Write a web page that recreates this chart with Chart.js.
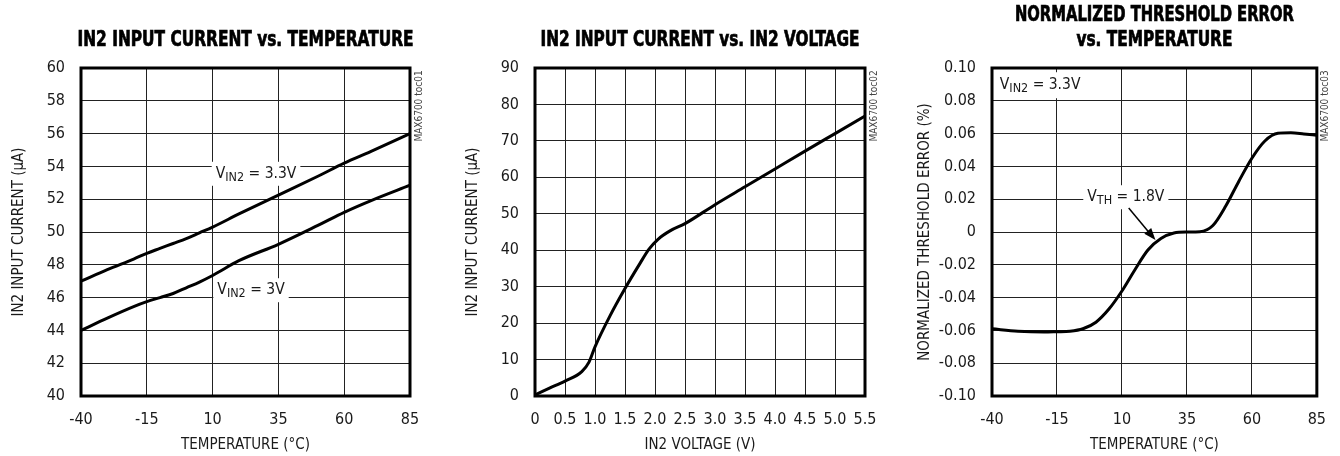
<!DOCTYPE html>
<html>
<head>
<meta charset="utf-8">
<script src="https://cdn.jsdelivr.net/npm/chart.js@4.4.0/dist/chart.umd.min.js"></script>
<style>
  html, body { margin: 0; padding: 0; background: #fff; }
  #wrap { position: relative; width: 1340px; height: 456px; }
  canvas { position: absolute; top: 0; }
</style>
</head>
<body>
<div id="wrap">
  <canvas id="c1" width="450" height="456" style="left:0"></canvas>
  <canvas id="c2" width="450" height="456" style="left:450px"></canvas>
  <canvas id="c3" width="440" height="456" style="left:900px"></canvas>
</div>
<script>
// Chart 1: IN2 input current vs temperature
const tempC = [-40, -30, -20, -15, -10, -5, 0, 5, 10, 20, 35, 50, 60, 70, 85];
const current33V = [47.0, 47.7, 48.35, 48.7, 49.0, 49.3, 49.6, 49.95, 50.3, 51.1, 52.25, 53.4, 54.2, 54.9, 56.0];
const current3V = [44.0, 44.75, 45.45, 45.75, 46.0, 46.25, 46.6, 46.95, 47.35, 48.25, 49.25, 50.4, 51.2, 51.9, 52.85];
const tempTicks = [-40, -15, 10, 35, 60, 85];
const tempTickLabels = ['-40', '-15', '10', '35', '60', '85'];
const currentTicks1 = [40, 42, 44, 46, 48, 50, 52, 54, 56, 58, 60];

// Chart 2: IN2 input current vs IN2 voltage
const in2Voltage = [0, 0.25, 0.5, 0.78, 0.9, 1.0, 1.25, 1.5, 1.75, 1.9, 2.05, 2.25, 2.5, 3.0, 3.5, 4.0, 4.5, 5.0, 5.5];
const currentVsVoltage = [0.3, 2.2, 4.1, 6.7, 9.3, 13.5, 22, 29.5, 36.4, 40.3, 43.0, 45.3, 47.3, 52.5, 57.4, 62.3, 67.2, 72.0, 76.8];
const voltageTicks = [0, 0.5, 1.0, 1.5, 2.0, 2.5, 3.0, 3.5, 4.0, 4.5, 5.0, 5.5];
const voltageTickLabels = ['0', '0.5', '1.0', '1.5', '2.0', '2.5', '3.0', '3.5', '4.0', '4.5', '5.0', '5.5'];
const currentTicks2 = [0, 10, 20, 30, 40, 50, 60, 70, 80, 90];

// Chart 3: normalized threshold error vs temperature
const errTemp = [-40, -30, -20, -15, -10, -5, 0, 5, 10, 15, 20, 25, 30, 35, 40, 45, 50, 55, 60, 65, 70, 75, 80, 85];
const thresholdError = [-0.059, -0.0605, -0.061, -0.0608, -0.0605, -0.059, -0.055, -0.047, -0.036, -0.023, -0.011, -0.004, -0.0006, 0, 0.0002, 0.004, 0.016, 0.031, 0.045, 0.0555, 0.0602, 0.0605, 0.0598, 0.059];
const errorTicks = [-0.1, -0.08, -0.06, -0.04, -0.02, 0, 0.02, 0.04, 0.06, 0.08, 0.1];
const errorTickLabels = ['-0.10', '-0.08', '-0.06', '-0.04', '-0.02', '0', '0.02', '0.04', '0.06', '0.08', '0.10'];

const NARROW = '"Liberation Sans Narrow", "Arial Narrow", "DejaVu Sans Condensed", sans-serif';
const INK = '#1a1a1a';

function pairs(xs, ys) {
    return xs.map((x, i) => ({ x: x, y: ys[i] }));
}

// label with subscript and white background, placed in data units
function drawLabel(ctx, scales, l) {
    const x = scales.x.getPixelForValue(l.x);
    const y = scales.y.getPixelForValue(l.y);
    const big = '15.5px ' + NARROW, small = '12.5px ' + NARROW;
    ctx.save();
    ctx.font = big;
    const w1 = ctx.measureText(l.main).width;
    const w3 = ctx.measureText(l.rest).width;
    ctx.font = small;
    const w2 = ctx.measureText(l.sub).width;
    const w = w1 + w2 + w3;
    const x0 = l.align === 'left' ? x : x - w / 2;
    ctx.fillStyle = '#fff';
    ctx.fillRect(x0 - l.padX, y - l.padY, w + 2 * l.padX, 2 * l.padY);
    ctx.fillStyle = INK;
    ctx.textBaseline = 'middle';
    ctx.textAlign = 'left';
    ctx.font = big;
    ctx.fillText(l.main, x0, y);
    ctx.font = small;
    ctx.fillText(l.sub, x0 + w1, y + 4);
    ctx.font = big;
    ctx.fillText(l.rest, x0 + w1 + w2, y);
    ctx.restore();
}

function drawArrow(ctx, scales, ar) {
    const x1 = scales.x.getPixelForValue(ar.from[0]), y1 = scales.y.getPixelForValue(ar.from[1]);
    const x2 = scales.x.getPixelForValue(ar.to[0]), y2 = scales.y.getPixelForValue(ar.to[1]);
    const ang = Math.atan2(y2 - y1, x2 - x1);
    ctx.save();
    ctx.strokeStyle = '#000';
    ctx.fillStyle = '#000';
    ctx.lineWidth = 1.5;
    ctx.beginPath();
    ctx.moveTo(x1, y1);
    ctx.lineTo(x2 - 8 * Math.cos(ang), y2 - 8 * Math.sin(ang));
    ctx.stroke();
    ctx.translate(x2, y2);
    ctx.rotate(ang);
    ctx.beginPath();
    ctx.moveTo(0, 0);
    ctx.lineTo(-12, -4.5);
    ctx.lineTo(-12, 4.5);
    ctx.closePath();
    ctx.fill();
    ctx.restore();
}

// heavy condensed heading, squeezed to the width it has in the datasheet
function drawHeading(ctx, cx, line) {
    ctx.save();
    ctx.font = 'bold 21px ' + NARROW;
    const w = ctx.measureText(line.text).width;
    ctx.translate(cx, line.y);
    ctx.scale(line.width / w, 1);
    ctx.fillStyle = '#000';
    ctx.strokeStyle = '#000';
    ctx.lineWidth = 0.7;
    ctx.textAlign = 'center';
    ctx.textBaseline = 'middle';
    ctx.fillText(line.text, 0, 0);
    ctx.strokeText(line.text, 0, 0);
    ctx.restore();
}

// annotations under the curves, then plot frame, heading and part number tag
const framePlugin = {
    id: 'frame',
    beforeDatasetsDraw(chart, args, opts) {
        const { ctx, scales } = chart;
        (opts.labels || []).forEach(l => drawLabel(ctx, scales, l));
        (opts.arrows || []).forEach(ar => drawArrow(ctx, scales, ar));
    },
    afterDatasetsDraw(chart, args, opts) {
        const { ctx, chartArea: a } = chart;
        opts.heading.forEach(line => drawHeading(ctx, (a.left + a.right) / 2, line));
        ctx.save();
        ctx.strokeStyle = '#000';
        ctx.lineWidth = 3;
        ctx.strokeRect(a.left, a.top, a.right - a.left, a.bottom - a.top);
        ctx.translate(a.right + 9, a.top + 38);
        ctx.rotate(-Math.PI / 2);
        ctx.font = '10px ' + NARROW;
        ctx.fillStyle = '#444';
        ctx.textAlign = 'center';
        ctx.textBaseline = 'middle';
        ctx.fillText(opts.tag, 0, 0);
        ctx.restore();
    }
};

function makeChart(id, cfg) {
    return new Chart(document.getElementById(id), {
        type: 'line',
        data: {
            datasets: cfg.series.map(s => ({
                data: s,
                borderColor: '#000',
                borderWidth: 3,
                pointRadius: 0,
                cubicInterpolationMode: 'monotone',
                fill: false
            }))
        },
        options: {
            responsive: false,
            animation: false,
            devicePixelRatio: 1,
            layout: { padding: { top: 68, right: cfg.padRight, bottom: 0, left: 0 } },
            plugins: {
                legend: { display: false },
                tooltip: { enabled: false },
                title: { display: false },
                frame: { heading: cfg.heading, tag: cfg.tag, labels: cfg.labels, arrows: cfg.arrows }
            },
            scales: {
                x: {
                    type: 'linear',
                    min: cfg.xTicks[0],
                    max: cfg.xTicks[cfg.xTicks.length - 1],
                    afterFit: a => { a.height = 60; },
                    afterBuildTicks: a => { a.ticks = cfg.xTicks.map(v => ({ value: v })); },
                    ticks: {
                        autoSkip: false,
                        maxRotation: 0,
                        padding: 14,
                        color: INK,
                        font: { family: NARROW, size: 16 },
                        callback: (v, i) => cfg.xLabels[i]
                    },
                    grid: { color: '#222', lineWidth: 1, drawTicks: false },
                    border: { display: false },
                    title: {
                        display: true,
                        text: cfg.xTitle,
                        color: INK,
                        font: { family: NARROW, size: 15 },
                        padding: { top: 0, bottom: 2 }
                    }
                },
                y: {
                    min: cfg.yTicks[0],
                    max: cfg.yTicks[cfg.yTicks.length - 1],
                    afterFit: a => { a.width = cfg.yWidth; },
                    afterBuildTicks: a => { a.ticks = cfg.yTicks.map(v => ({ value: v })); },
                    ticks: {
                        autoSkip: false,
                        padding: 16,
                        color: INK,
                        font: { family: NARROW, size: 16 },
                        callback: (v, i) => cfg.yLabels[i]
                    },
                    grid: { color: '#222', lineWidth: 1, drawTicks: false },
                    border: { display: false },
                    title: {
                        display: true,
                        text: cfg.yTitle,
                        color: INK,
                        font: { family: NARROW, size: 15 },
                        padding: { top: cfg.yTitlePad, bottom: 0 }
                    }
                }
            }
        },
        plugins: [framePlugin]
    });
}

makeChart('c1', {
    heading: [{ text: 'IN2 INPUT CURRENT vs. TEMPERATURE', y: 41, width: 336 }],
    tag: 'MAX6700 toc01',
    padRight: 40,
    yWidth: 81,
    yTitlePad: 10,
    series: [pairs(tempC, current33V), pairs(tempC, current3V)],
    xTicks: tempTicks,
    xLabels: tempTickLabels,
    yTicks: currentTicks1,
    yLabels: currentTicks1.map(String),
    xTitle: 'TEMPERATURE (°C)',
    yTitle: 'IN2 INPUT CURRENT (µA)',
    labels: [
        { x: 26.5, y: 53.55, main: 'V', sub: 'IN2', rest: ' = 3.3V', padX: 4, padY: 12 },
        { x: 24.6, y: 46.45, main: 'V', sub: 'IN2', rest: ' = 3V', padX: 4, padY: 12 }
    ]
});

makeChart('c2', {
    heading: [{ text: 'IN2 INPUT CURRENT vs. IN2 VOLTAGE', y: 41, width: 319 }],
    tag: 'MAX6700 toc02',
    padRight: 35,
    yWidth: 85,
    yTitlePad: 14,
    series: [pairs(in2Voltage, currentVsVoltage)],
    xTicks: voltageTicks,
    xLabels: voltageTickLabels,
    yTicks: currentTicks2,
    yLabels: currentTicks2.map(String),
    xTitle: 'IN2 VOLTAGE (V)',
    yTitle: 'IN2 INPUT CURRENT (µA)'
});

makeChart('c3', {
    heading: [
        { text: 'NORMALIZED THRESHOLD ERROR', y: 15.5, width: 279 },
        { text: 'vs. TEMPERATURE', y: 41, width: 156 }
    ],
    tag: 'MAX6700 toc03',
    padRight: 20,
    yWidth: 92,
    yTitlePad: 16,
    series: [pairs(errTemp, thresholdError)],
    xTicks: tempTicks,
    xLabels: tempTickLabels,
    yTicks: errorTicks,
    yLabels: errorTickLabels,
    xTitle: 'TEMPERATURE (°C)',
    yTitle: 'NORMALIZED THRESHOLD ERROR (%)',
    labels: [
        { x: -37, y: 0.0895, align: 'left', main: 'V', sub: 'IN2', rest: ' = 3.3V', padX: 4, padY: 13 },
        { x: 11.5, y: 0.0212, main: 'V', sub: 'TH', rest: ' = 1.8V', padX: 4, padY: 12 }
    ],
    arrows: [
        { from: [12.6, 0.0146], to: [22.9, -0.0049] }
    ]
});
</script>
</body>
</html>
